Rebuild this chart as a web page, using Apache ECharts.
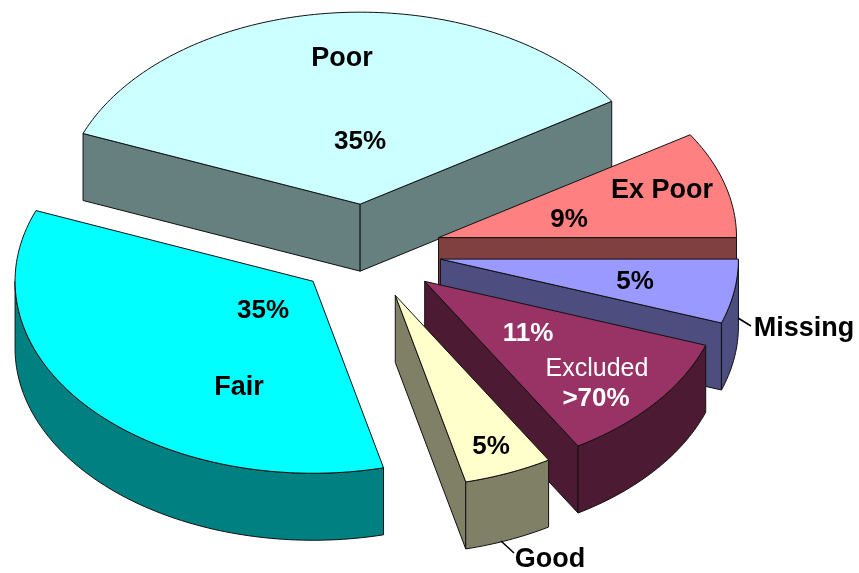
<!DOCTYPE html>
<html>
<head>
<meta charset="utf-8">
<style>html,body{margin:0;padding:0;background:#fff}#c{width:859px;height:573px}</style>
<script src="https://cdn.jsdelivr.net/npm/echarts@6/dist/echarts.min.js"></script>
</head>
<body>
<div id="c"></div>
<script>
// Data: clockwise on screen, starting from due east (shares; labels are rounded)
const categories = ['Missing', 'Excluded >70%', 'Good', 'Fair', 'Poor', 'Ex Poor'];
const shares = [5.4, 11.0, 4.8, 34.8, 35.0, 9.0];

// Styles
const topColors = ['#9999FF', '#993366', '#FFFFCC', '#00FFFF', '#CCFFFF', '#FF8080'];
const sideColors = ['#4D4D80', '#4D1A33', '#808066', '#008080', '#668080', '#804040'];

// 3D pie layout
const center = [367, 251];
const radiusX = 298, radiusY = 192, depth = 67;
const explode = [0.25, 0.25, 0.25, 0.24, 0.245, 0.25];
const strokeColor = '#111111';

// Cumulative angles derived from the values
const total = shares.reduce((a, b) => a + b, 0);
let acc = 0;
const slices = shares.map((v, i) => {
  const start = acc / total * 2 * Math.PI;
  acc += v;
  const end = acc / total * 2 * Math.PI;
  const mid = (start + end) / 2;
  return { i, start, end, mid,
    apex: [center[0] + explode[i] * radiusX * Math.cos(mid), center[1] + explode[i] * radiusY * Math.sin(mid)] };
});
// Paint back to front
const paintOrder = slices.slice().sort((a, b) => Math.sin(a.mid) - Math.sin(b.mid)).map(s => s.i);

function rim(s, t) { return [s.apex[0] + radiusX * Math.cos(t), s.apex[1] + radiusY * Math.sin(t)]; }
function down(p) { return [p[0], p[1] + depth]; }
function arc(s, a, b) {
  const n = Math.max(2, Math.ceil((b - a) / 0.02)), pts = [];
  for (let k = 0; k <= n; k++) pts.push(rim(s, a + (b - a) * k / n));
  return pts;
}
function poly(points, fill) {
  return { type: 'polygon', shape: { points }, style: { fill, stroke: strokeColor, lineWidth: 1, lineJoin: 'round' } };
}
function renderSlice(params, api) {
  const s = slices[api.value(0)];
  const side = sideColors[s.i], children = [];
  const cut = t => {
    const p = rim(s, t);
    return poly([s.apex, p, down(p), down(s.apex)], side);
  };
  if (Math.cos(s.start) < 0) children.push(cut(s.start));
  if (Math.cos(s.end) > 0) children.push(cut(s.end));
  const a = Math.max(s.start, 0), b = Math.min(s.end, Math.PI);
  if (b > a) {
    const edge = arc(s, a, b);
    children.push(poly(edge.concat(edge.map(down).reverse()), side));
  }
  children.push(poly([s.apex].concat(arc(s, s.start, s.end)), topColors[s.i]));
  return { type: 'group', children };
}

// Labels
const labelTexts = ['Poor', '35%', 'Ex Poor', '9%', '5%', 'Missing', '11%', 'Excluded', '>70%', '5%', 'Good', 'Fair', '35%'];
const labelCenters = [[342,59],[360,142],[662,191],[569,220],[635,282],[804,329],[528,334],[597,369],[596,399],[491,447],[550,560],[239,388],[263,311]];
const labelColors = ['#000','#000','#000','#000','#000','#000','#fff','#fff','#fff','#000','#000','#000','#000'];
const labelWeights = ['bold','bold','bold','bold','bold','bold','bold','normal','bold','bold','bold','bold','bold'];
const labelSizes = [27,26,27,26,26,27,26,25,26,26,27,27,26];
const leaders = [[[738,318],[751,326]],[[501,541],[514,553]]];

const graphics = labelTexts.map((t, i) => ({
  type: 'text', x: labelCenters[i][0], y: labelCenters[i][1], z: 10,
  style: { text: t, fill: labelColors[i], align: 'center', verticalAlign: 'middle',
    font: labelWeights[i] + ' ' + labelSizes[i] + 'px "Liberation Sans", Arial, sans-serif' }
})).concat(leaders.map(l => ({
  type: 'line', z: 9, shape: { x1: l[0][0], y1: l[0][1], x2: l[1][0], y2: l[1][1] },
  style: { stroke: '#000', lineWidth: 1.5 }
})));

const chart = echarts.init(document.getElementById('c'), null, { renderer: 'canvas' });
chart.setOption({
  animation: false,
  backgroundColor: '#fff',
  graphic: { elements: graphics },
  series: [{
    type: 'custom', coordinateSystem: 'none', silent: true,
    renderItem: renderSlice,
    data: paintOrder.map(i => ({ name: categories[i], value: [i, shares[i]] }))
  }]
});
</script>
</body>
</html>
